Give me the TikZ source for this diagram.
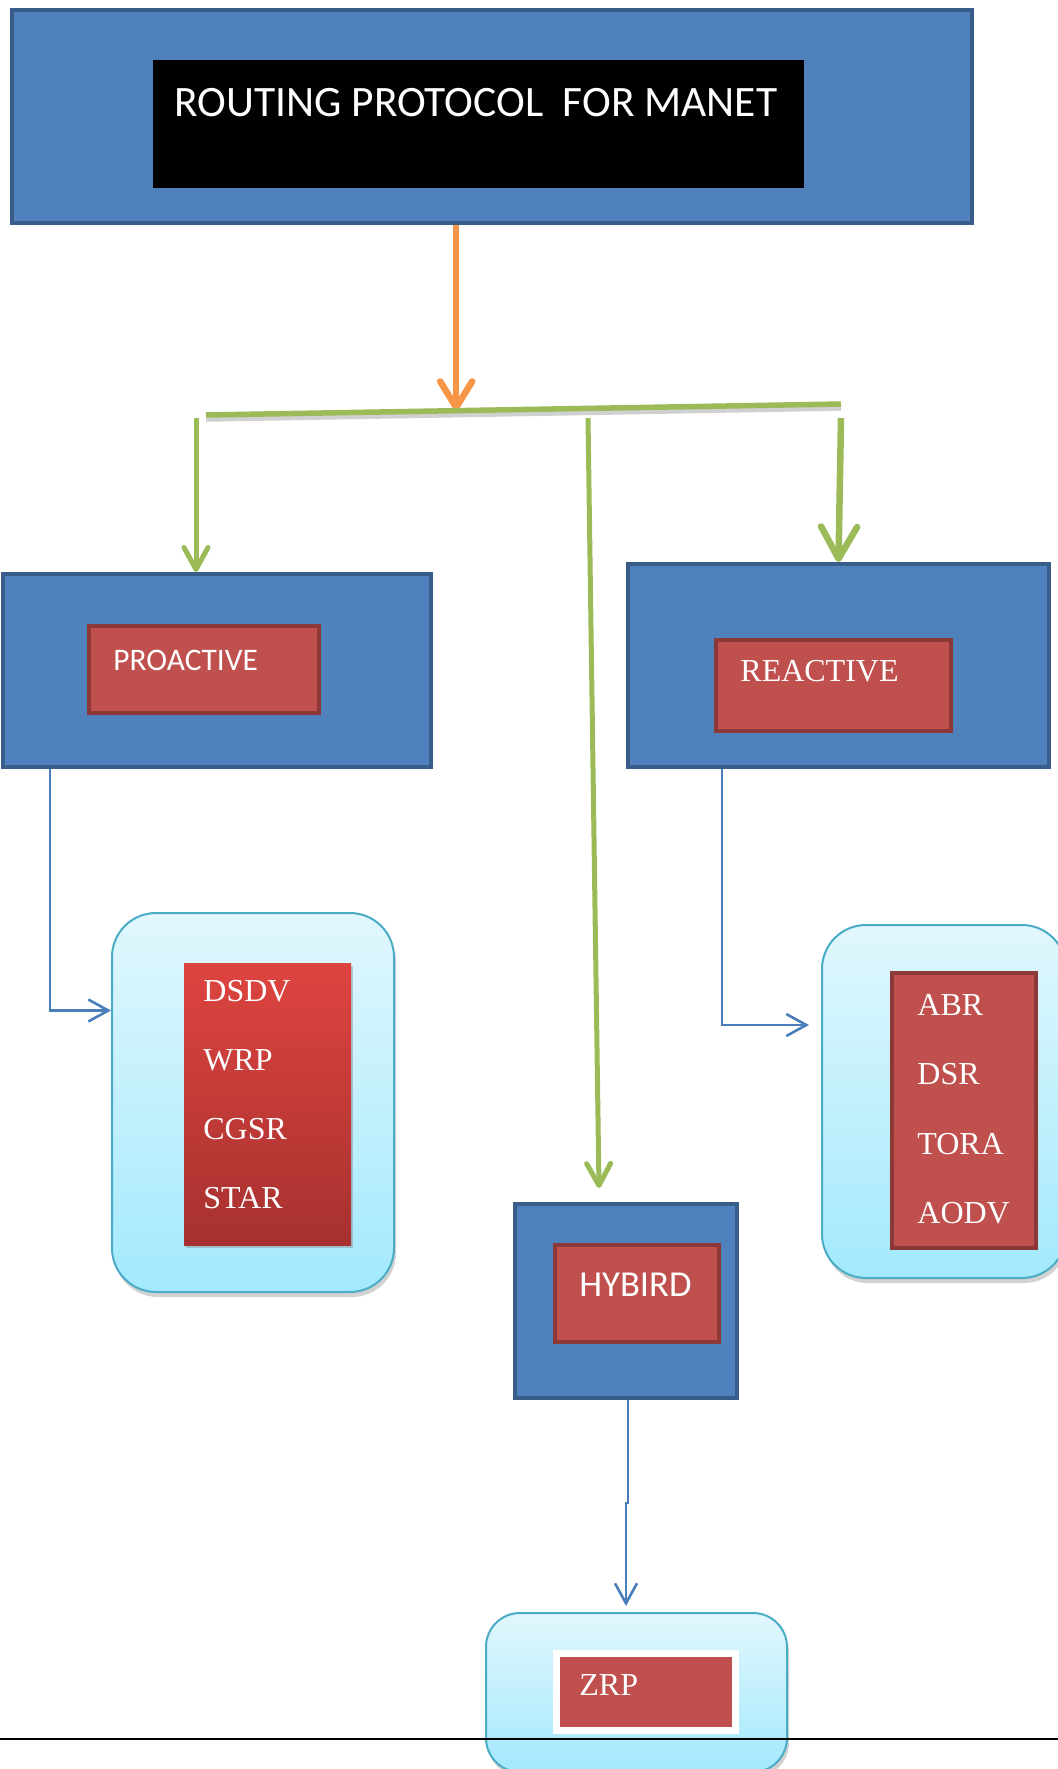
\documentclass[tikz,border=0pt]{standalone}
\usepackage{fontspec}
\setmainfont{Liberation Serif}
\setsansfont{Carlito}
\usepackage{xcolor}
\usetikzlibrary{shapes,arrows,arrows.meta,positioning,shadows,calc}
\definecolor{boxblue}{RGB}{79,129,189}
\definecolor{boxedge}{RGB}{56,93,138}
\definecolor{boxred}{RGB}{192,80,77}
\definecolor{rededge}{RGB}{140,56,54}
\definecolor{lineblue}{RGB}{74,126,187}
\definecolor{leafgreen}{RGB}{155,187,89}
\definecolor{orangeline}{RGB}{247,150,70}
\definecolor{cyantop}{RGB}{225,247,253}
\definecolor{cyanbot}{RGB}{163,233,253}
\definecolor{cyanedge}{RGB}{75,172,198}
\definecolor{listtop}{RGB}{222,68,64}
\definecolor{listbot}{RGB}{166,49,47}

\begin{document}
\begin{tikzpicture}[x=0.5pt, y=-0.5pt,
	group/.style={rectangle, draw=boxedge, line width=2pt, fill=boxblue},
	kind/.style={rectangle, draw=rededge, line width=2pt, fill=boxred},
	family/.style={rectangle, rounded corners=22pt, draw=cyanedge, line width=1pt, top color=cyantop, bottom color=cyanbot, drop shadow={shadow xshift=1pt, shadow yshift=-2.5pt, opacity=.35}},
	sanslbl/.style={text=white, font=\sffamily\fontsize{15.7}{18}\selectfont, inner sep=0pt},
	seriflbl/.style={text=white, font=\rmfamily\fontsize{16}{19}\selectfont, inner sep=0pt},
	branch/.style={leafgreen, line width=2.5pt, -{Straight Barb[length=11pt, width=12pt, round]}},
	link/.style={lineblue, line width=1.3pt, -{Straight Barb[length=10pt, width=11pt]}}]
	\clip (0,0) rectangle (1058,1769);
	\fill[white] (0,0) rectangle (1058,1769);

	\node[group, minimum width=480pt, minimum height=106.5pt] (routing) at (492,116.5) {};
	\node[rectangle, fill=black, minimum width=325.5pt, minimum height=64pt] (titlebar) at (478.5,124) {};
	\node[sanslbl, font=\sffamily\fontsize{21.7}{26}\selectfont, anchor=base] (title) at (476,116) {ROUTING PROTOCOL~~FOR MANET};

	\node[group, minimum width=214pt, minimum height=96.5pt] (proactive) at (217,670.5) {};
	\node[kind, minimum width=115pt, minimum height=43.5pt] (prokind) at (204,669.5) {};
	\node[sanslbl, anchor=base west] (prolabel) at (113,670) {PROACTIVE};

	\node[group, minimum width=210.5pt, minimum height=101.5pt] (reactive) at (838.5,665.5) {};
	\node[kind, minimum width=117.5pt, minimum height=45.5pt] (rekind) at (833.5,685.5) {};
	\node[seriflbl, anchor=base west] (relabel) at (740,681.5) {REACTIVE};

	\node[group, minimum width=111pt, minimum height=97pt] (hybird) at (626,1301) {};
	\node[kind, minimum width=82pt, minimum height=48.5pt] (hybkind) at (637,1293.5) {};
	\node[sanslbl, font=\sffamily\fontsize{18.3}{22}\selectfont, anchor=base west] (hyblabel) at (579,1296) {HYBIRD};

	\node[family, minimum width=141pt, minimum height=189.5pt] (prolist) at (253,1102.5) {};
	\node[rectangle, top color=listtop, bottom color=listbot, minimum width=83.5pt, minimum height=141pt, drop shadow={shadow xshift=1pt, shadow yshift=-1.5pt, opacity=.4}] (probox) at (267.5,1104) {};
	\foreach \proto [count=\i] in {DSDV,WRP,CGSR,STAR}
		\node[seriflbl, anchor=base west] (pro-\proto) at (203,{1001.5+69*(\i-1)}) {\proto};

	\node[family, minimum width=122pt, minimum height=176.5pt] (relist) at (944,1101.5) {};
	\node[kind, minimum width=72pt, minimum height=137.5pt] (rebox) at (964,1110.5) {};
	\foreach \proto [count=\i] in {ABR,DSR,TORA,AODV}
		\node[seriflbl, anchor=base west] (re-\proto) at (917,{1015.5+69.3*(\i-1)}) {\proto};

	\node[family, rounded corners=17pt, minimum width=150.5pt, minimum height=79.5pt] (zrpfamily) at (636.5,1692.5) {};
	\node[rectangle, draw=white, line width=3.5pt, fill=boxred, minimum width=89.5pt, minimum height=38.5pt, drop shadow={shadow xshift=.5pt, shadow yshift=-1pt, opacity=.3}] (zrpbox) at (646,1692) {};
	\node[seriflbl, anchor=base west] (zrplabel) at (579,1695.5) {ZRP};

	\coordinate (barleft) at (206,415);
	\coordinate (barright) at (841,404);
	\coordinate (split) at ($(barleft)!0.394!(barright)$);
	\draw[orangeline, line width=3.25pt, -{Straight Barb[length=13pt, width=16pt, round]}] (split |- routing.south) -- (split);
	\draw[gray!60, line width=2.75pt, opacity=.6] ([yshift=-2pt]barleft) -- ([yshift=-2pt]barright);
	\draw[leafgreen, line width=2.75pt] (barleft) -- (barright);

	\coordinate (proarm) at (196,418);
	\coordinate (hybarm) at (588,418);
	\coordinate (rearm) at (841,418);
	\draw[branch] (proarm) -- (proarm |- proactive.north);
	\draw[branch] (hybarm) -- ([xshift=-13.5pt,yshift=7pt]hybird.north);
	\draw[branch, line width=3.25pt, -{Straight Barb[length=16pt, width=18pt, round]}] (rearm) -- (reactive.north);

	\draw[link] ([xshift=24.5pt]proactive.south west) |- ([yshift=46pt]prolist.west);
	\draw[link] ([xshift=48pt]reactive.south west) |- ([xshift=-6pt,yshift=38.25pt]relist.west);
	\draw[link] ([xshift=1pt]hybird.south) -- ++(0,103) -| ([xshift=-5.25pt,yshift=3pt]zrpfamily.north);

	\draw[black, line width=1pt] (0,1739) -- (1058,1739);
\end{tikzpicture}
\end{document}
